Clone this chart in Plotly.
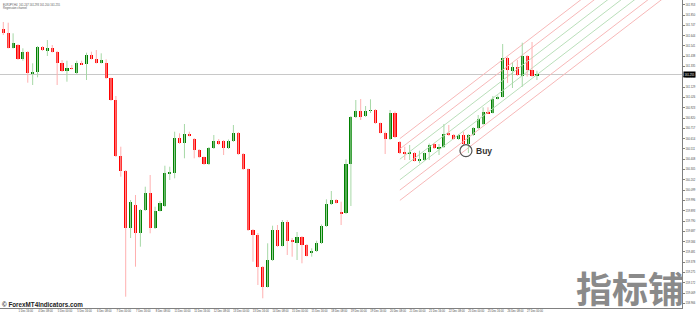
import plotly.graph_objects as go

# ---------------- data (EURJPY, H4) ----------------
opens = [161.800,161.710,161.667,161.523,161.547,161.407,161.480,161.260,161.283,161.527,
         161.490,161.517,161.480,161.373,161.293,161.320,161.267,161.373,161.357,161.450,
         161.413,161.373,161.373,161.217,161.000,160.440,160.293,159.717,159.950,159.667,
         159.900,160.067,159.717,159.893,159.940,160.267,160.267,160.617,160.567,160.660,
         160.610,160.500,160.427,160.360,160.517,160.587,160.587,160.517,160.587,160.673,
         160.460,160.307,159.700,159.650,159.327,159.133,159.400,159.700,159.543,159.783,
         159.600,159.573,159.627,159.550,159.473,159.487,159.567,159.740,159.960,160.000,
         159.877,159.867,160.357,160.827,160.893,160.840,160.890,160.900,160.767,160.673,
         160.607,160.873,160.577,160.473,160.467,160.467,160.395,160.400,160.483,160.557,
         160.517,160.527,160.667,160.650,160.607,160.647,160.560,160.650,160.717,160.757,
         160.880,160.873,161.013,161.033,161.423,161.290,161.333,161.240,161.440,161.300,
         161.247]
highs = [161.870,161.780,161.773,161.667,161.560,161.517,161.490,161.367,161.540,161.540,
         161.600,161.550,161.490,161.400,161.393,161.350,161.393,161.393,161.473,161.483,
         161.500,161.467,161.407,161.225,161.040,160.533,160.300,160.000,160.050,159.910,
         160.133,160.250,159.933,159.990,160.343,160.333,160.683,160.667,160.760,160.683,
         160.620,160.510,160.435,160.530,160.650,160.610,160.600,160.605,160.750,160.680,
         160.470,160.315,159.710,159.670,159.340,159.567,159.743,159.750,159.800,159.800,
         159.620,159.680,159.640,159.560,159.517,159.593,159.755,160.007,160.090,160.010,
         159.983,160.407,160.840,161.000,161.010,160.940,161.007,160.910,160.775,160.685,
         160.900,160.885,160.590,160.533,160.550,160.480,160.493,160.475,160.565,160.570,
         160.560,160.760,160.750,160.660,160.660,160.683,160.660,160.730,160.850,160.927,
         160.927,161.040,161.045,161.560,161.430,161.373,161.400,161.573,161.450,161.580,
         161.293]
lows = [161.690,161.650,161.515,161.515,161.400,161.393,161.173,161.150,161.227,161.490,
        161.440,161.475,161.150,161.280,161.183,161.305,161.260,161.350,161.200,161.405,
        161.365,161.365,161.210,160.990,160.430,160.233,159.033,159.620,159.333,159.533,
        159.890,159.667,159.710,159.885,159.930,160.200,160.217,160.560,160.417,160.635,
        160.417,160.420,160.350,160.350,160.510,160.550,160.450,160.510,160.580,160.450,
        160.300,159.690,159.383,159.150,159.017,159.125,159.390,159.530,159.535,159.450,
        159.433,159.400,159.367,159.435,159.433,159.480,159.560,159.730,159.950,159.965,
        159.750,159.860,159.940,160.820,160.800,160.830,160.870,160.760,160.665,160.460,
        160.600,160.620,160.460,160.400,160.400,160.385,160.367,160.390,160.400,160.510,
        160.450,160.520,160.640,160.605,160.600,160.550,160.470,160.640,160.710,160.750,
        160.860,160.865,161.005,161.025,161.170,161.120,161.240,161.133,161.233,161.230,
        161.200]
closes = [161.710,161.670,161.523,161.567,161.407,161.480,161.267,161.283,161.533,161.500,
          161.523,161.483,161.373,161.290,161.317,161.310,161.373,161.357,161.450,161.413,
          161.373,161.400,161.217,161.000,160.440,160.293,159.717,159.983,159.667,159.900,
          160.067,159.717,159.893,159.973,160.267,160.277,160.617,160.567,160.660,160.640,
          160.500,160.427,160.360,160.517,160.587,160.560,160.517,160.593,160.673,160.460,
          160.307,159.700,159.650,159.327,159.133,159.400,159.700,159.540,159.783,159.590,
          159.577,159.633,159.550,159.443,159.490,159.573,159.743,159.960,160.000,159.973,
          159.867,160.357,160.827,160.893,160.833,160.890,160.900,160.767,160.673,160.607,
          160.873,160.630,160.467,160.467,160.473,160.393,160.405,160.467,160.553,160.517,
          160.533,160.660,160.650,160.613,160.647,160.560,160.650,160.717,160.807,160.880,
          160.867,161.013,161.033,161.423,161.300,161.333,161.250,161.440,161.300,161.240,
          161.255]

# x-axis labels (every 4th bar)
label_bars = [0,4,8,12,16,20,24,28,32,36,40,44,48,52,56,60,64,68,72,76,80,84,88,92,96,100,104,108]
label_text = ["1 Dec 2023","1 Dec 16:00","4 Dec 08:00","5 Dec 00:00","5 Dec 16:00","6 Dec 08:00",
              "7 Dec 00:00","7 Dec 16:00","8 Dec 08:00","11 Dec 00:00","11 Dec 16:00","12 Dec 08:00",
              "13 Dec 00:00","13 Dec 16:00","14 Dec 08:00","15 Dec 00:00","15 Dec 16:00","18 Dec 08:00",
              "19 Dec 00:00","19 Dec 16:00","20 Dec 08:00","21 Dec 00:00","21 Dec 16:00","22 Dec 08:00",
              "25 Dec 00:00","25 Dec 16:00","26 Dec 08:00","27 Dec 00:00"]

# regression channel (start/end bar, centre price at both ends, deviation offsets)
chan_bars = [82, 140]
chan_centre = [160.305, 162.483]
chan_offsets = [0.309, 0.206, 0.103, 0.0, -0.103, -0.206, -0.309]
chan_kinds = ["outer", "outer", "inner", "inner", "inner", "outer", "outer"]

# buy signal
buy_bar = 95.5
buy_price = 160.493

header_lines = ["EURJPY,H4  161.247 161.293 161.200 161.255", "Regression channel"]

# ---------------- styles ----------------
UP_BODY, DN_BODY = "#008000", "#ff0000"
UP_WICK, DN_WICK = "#a6d8a6", "#ffb0b0"
CH_OUTER, CH_INNER = "#f7b8b8", "#badfba"
TICK_FONT = dict(family="Liberation Sans, Arial", size=2.7, color="#444444")

n = len(opens)
idx = list(range(n))

fig = go.Figure()

# channel lines
for off, kind in zip(chan_offsets, chan_kinds):
    fig.add_trace(go.Scatter(
        x=chan_bars, y=[chan_centre[0] + off, chan_centre[1] + off], mode="lines",
        line=dict(color=CH_OUTER if kind == "outer" else CH_INNER, width=1),
        hoverinfo="skip", showlegend=False))

# wicks
for up in (True, False):
    wx, wy = [], []
    for i in idx:
        if (closes[i] >= opens[i]) == up:
            wx += [i, i, None]
            wy += [lows[i], highs[i], None]
    fig.add_trace(go.Scatter(x=wx, y=wy, mode="lines",
                             line=dict(color=UP_WICK if up else DN_WICK, width=1),
                             hoverinfo="skip", showlegend=False))

# bodies
base = [min(o, c) for o, c in zip(opens, closes)]
height = [max(abs(c - o), 0.008) for o, c in zip(opens, closes)]
colors = [UP_BODY if c >= o else DN_BODY for o, c in zip(opens, closes)]
fig.add_trace(go.Bar(x=idx, y=height, base=base, width=0.64,
                     marker=dict(color=colors, line=dict(width=0)),
                     showlegend=False, hoverinfo="skip"))

# buy marker
fig.add_trace(go.Scatter(x=[buy_bar], y=[buy_price], mode="markers",
                         marker=dict(symbol="circle-open", size=12, color="#555555",
                                     line=dict(color="#555555", width=1.2)),
                         showlegend=False, hoverinfo="skip"))
fig.add_annotation(x=buy_bar, y=buy_price, xref="x", yref="y", text="<b>Buy</b>",
                   showarrow=False, xanchor="left", yanchor="middle", xshift=8,
                   font=dict(family="Liberation Sans, Arial", size=8.5, color="#333333"))

# current price line and box
last = closes[-1]
fig.add_shape(type="line", xref="paper", x0=0, x1=1, yref="y", y0=last, y1=last,
              line=dict(color="#c8c8c8", width=1), layer="below")
fig.add_annotation(xref="paper", x=1, y=last, yref="y", text=f"{last:.3f}", showarrow=False,
                   xanchor="left", yanchor="middle", xshift=1, bgcolor="#000000", borderpad=0.5,
                   font=dict(family="Liberation Sans, Arial", size=2.7, color="#ffffff"))

# header text
for k, t in enumerate(header_lines):
    fig.add_annotation(xref="paper", yref="paper", x=0, y=1, xanchor="left", yanchor="top",
                       xshift=1, yshift=-0.5 - 3.6 * k, text=t, showarrow=False,
                       font=dict(family="Liberation Sans, Arial", size=2.7, color="#555555"))

# watermarks
fig.add_annotation(xref="paper", yref="paper", x=0, y=0.01, xanchor="left", yanchor="middle",
                   xshift=0, text="© ForexMT4Indicators.com", showarrow=False,
                   font=dict(family="Liberation Sans, Arial", size=6.3, color="#222222", weight="bold"))
fig.add_annotation(xref="paper", yref="paper", x=0.924, y=0.068, xanchor="center", yanchor="middle",
                   text="指标铺", showarrow=False,
                   font=dict(family="Noto Sans CJK SC", size=36, color="#8a8a8a", weight="bold"))

fig.update_layout(
    width=696, height=313, margin=dict(l=0, r=12, t=0, b=5),
    paper_bgcolor="white", plot_bgcolor="white", bargap=0,
    xaxis=dict(range=[0.326, 139.63], showgrid=False, zeroline=False, showline=True,
               linecolor="#808080", linewidth=1, tickvals=[b + 1.6 for b in label_bars],
               ticktext=label_text, tickfont=TICK_FONT, ticks="", fixedrange=True),
    yaxis=dict(range=[158.92, 162.0], side="right", showgrid=False, zeroline=False,
               showline=True, linecolor="#808080", linewidth=1, tick0=161.953, dtick=0.103,
               tickformat=".3f", ticks="outside", ticklen=2, tickcolor="#808080",
               tickfont=TICK_FONT),
)

fig.write_html("out.html")
